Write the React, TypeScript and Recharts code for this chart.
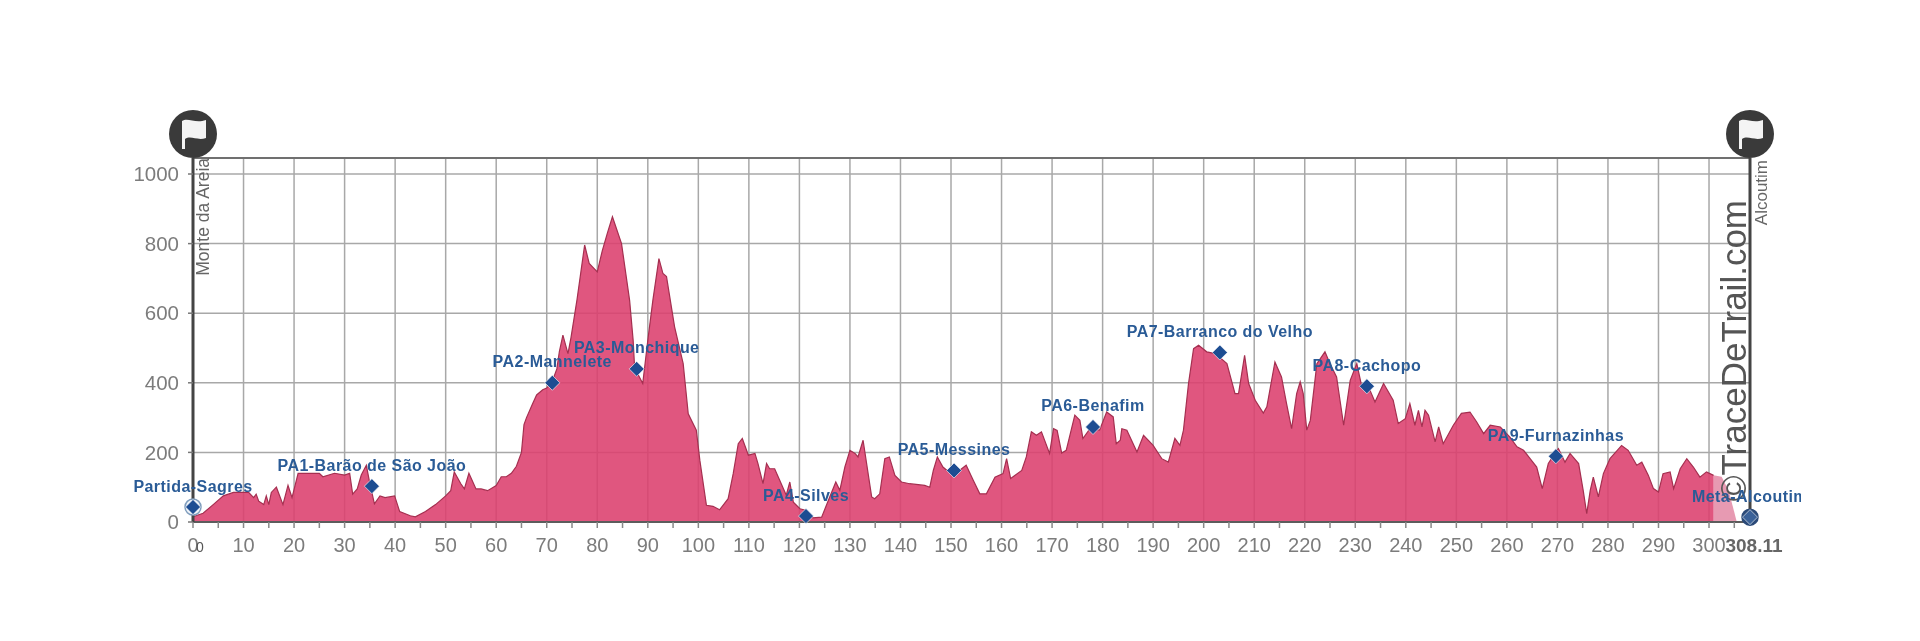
import React from "react";
import { ComposedChart, Area, Line, XAxis, YAxis, CartesianGrid, ReferenceLine, ReferenceDot } from "recharts";

const profileKm = [0,2,4,6,8,10,11,12,12.5,13,14,14.5,15,15.5,16.5,17.8,18.8,19.6,20.8,22,25,25.7,28,30,31,31.6,32.5,33.3,34.3,35,35.9,37,38,39.9,40.9,43,44,46,48,50,51,51.7,53,53.7,54.6,56,57,58.3,60,61,62,63,64,65,65.5,66,67.2,68,69.2,70,71,72,72.5,73.2,74.2,74.8,76,77.5,78.4,80,81,82,83,84.8,86.4,87.1,87.4,88.2,89,90,91,92.2,93,93.7,95.3,97,98,99.6,100.3,101.6,102.9,104.2,105.9,106.9,107.9,108.7,109.9,111.2,111.8,112.8,113.5,114.1,115.1,116.1,117.4,118.1,118.8,120.1,121.4,122.7,124.4,126,127.2,128,129,130,131,131.6,132.6,133.3,134.3,134.9,135.9,136.9,137.8,138.9,140.2,141.8,144.8,145.8,146.5,147.3,148.4,150.4,153,154.4,155.7,157,158.7,160.3,161,161.8,164,164.9,165.9,166.9,167.9,169.5,170.3,171,171.9,172.8,174.5,175.5,176.1,177.5,179.4,180.8,182.1,182.7,183.5,183.8,184.8,186.8,188.1,190,191.7,193,194.3,195.3,196,197,198,199,200.6,202.3,204.6,206.2,206.9,208.1,208.9,210.2,211.8,212.5,214.1,215.4,216.4,217.4,218.4,219.1,219.7,220.4,221.1,222.4,224,225,226.3,227.7,229,230.3,231.3,232.9,233.9,235.6,237.5,238.5,239.9,240.8,241.8,242.5,243.2,243.8,244.5,245.8,246.5,247.4,249.4,251,252.7,254,255.4,256.7,258.7,260.6,262,263.3,264.6,265.9,267,268.2,269.5,270.2,271.5,272.5,274.2,275.1,275.8,276.5,277.1,278.1,279.1,280.4,282.7,284,285.7,286.7,288,289,290,290.9,292.3,293,294.3,295.6,296.9,298.2,299.5,300.9];
const profileElevation = [15,25,50,75,85,85,85,70,80,60,50,75,50,85,100,50,105,70,140,140,140,130,140,135,140,80,95,135,163,110,52,75,70,75,30,18,15,30,50,75,90,144,110,95,140,95,95,90,105,130,130,140,160,200,280,300,340,365,380,385,400,440,490,537,484,530,640,796,743,719,780,830,877,800,637,522,440,420,398,522,637,757,714,705,561,455,311,264,177,48,45,35,67,139,225,240,192,197,168,110,168,153,153,120,77,115,57,38,33,12,14,72,115,91,158,206,197,187,235,168,72,67,81,182,187,134,115,110,105,100,148,187,158,134,163,120,81,81,129,139,182,125,148,187,259,249,259,197,268,263,198,206,307,292,240,268,264,316,302,225,235,268,264,201,249,220,182,172,240,220,264,398,498,508,489,484,455,369,369,479,398,350,313,331,460,417,340,268,369,403,369,264,292,455,489,455,417,278,407,455,388,379,345,398,350,283,297,340,278,321,273,321,307,230,273,225,278,312,316,288,254,278,273,244,216,206,182,158,96,168,197,211,172,197,168,91,24,91,129,72,139,182,220,206,163,172,134,96,86,139,144,96,153,182,158,129,144,134];
const tailKm = [300.9,302.5,303.9,305.5];
const tailElevation = [134,130,90,0];

const waypointNames = ["Partida-Sagres","PA1-Barão de São João","PA2-Mannelete","PA3-Monchique","PA4-Silves","PA5-Messines","PA6-Benafim","PA7-Barranco do Velho","PA8-Cachopo","PA9-Furnazinhas","Meta-Alcoutim"];
const waypointKm = [0,35.4,71.1,87.8,121.3,150.6,178.1,203.2,232.3,269.7,308.11];
const waypointElevation = [43,103,400,440,17,148,273,487,390,189,14];

const yTicks = [0,200,400,600,800,1000];
const majorKm = [0,10,20,30,40,50,60,70,80,90,100,110,120,130,140,150,160,170,180,190,200,210,220,230,240,250,260,270,280,290,300];
const minorKm = [5,15,25,35,45,55,65,75,85,95,105,115,125,135,145,155,165,175,185,195,205,215,225,235,245,255,265,275,285,295,305];
const totalKm = 308.11;
const topElevation = 1046;

const FONT = '"Liberation Sans", Arial, sans-serif';

type Row = { km: number; elevation?: number; tail?: number; waypoint?: number; name?: string };
const byKm = new Map<number, Row>();
const rowAt = (km: number): Row => {
  if (!byKm.has(km)) byKm.set(km, { km });
  return byKm.get(km)!;
};
profileKm.forEach((km, i) => { rowAt(km).elevation = profileElevation[i]; });
tailKm.forEach((km, i) => { rowAt(km).tail = tailElevation[i]; });
waypointKm.forEach((km, i) => {
  const r = rowAt(km);
  r.waypoint = waypointElevation[i];
  r.name = waypointNames[i];
});
const rows = Array.from(byKm.values()).sort((a, b) => a.km - b.km);

const xTick = (props: any) => {
  const { x, y, payload } = props;
  const v = payload.value;
  const labelled = v % 10 === 0 && v <= 300;
  const isEnd = v === totalKm;
  return (
    <g>
      {!isEnd && <line x1={x} x2={x} y1={y} y2={y + 6} stroke="#888" strokeWidth={1.5} />}
      {labelled && <text x={x} y={y + 23} textAnchor="middle" dominantBaseline="central" fontFamily={FONT} fontSize={20} fill="#7c7c7c">{v}</text>}
      {v === 0 && <text x={x + 7} y={y + 25} textAnchor="middle" dominantBaseline="central" fontFamily={FONT} fontSize={14} fill="#555">0</text>}
      {isEnd && <text x={x + 4} y={y + 23} textAnchor="middle" dominantBaseline="central" fontFamily={FONT} fontSize={19} fontWeight={700} fill="#666">308.11</text>}
    </g>
  );
};

const waypointDot = (props: any) => {
  const { cx, cy, payload, index } = props;
  if (cx == null || cy == null || payload?.waypoint == null) return <g key={index} />;
  const first = payload.name === waypointNames[0];
  const end = payload.name === waypointNames[10];
  const ring = first || end;
  const d = `M${cx} ${cy - 7.5}L${cx + 7.5} ${cy}L${cx} ${cy + 7.5}L${cx - 7.5} ${cy}Z`;
  return (
    <g key={index}>
      {ring && <circle cx={cx} cy={cy} r={8} fill={end ? "#2b4a78" : "#f3f6fa"} stroke={end ? "#2b4a78" : "#7f9dbd"} strokeWidth={1.5} />}
      <path d={d} fill={end ? "#3a6198" : "#1d4d92"} stroke="#fff" strokeOpacity={0.6} strokeWidth={1} />
      <text x={cx} y={cy - 21} textAnchor="middle" dominantBaseline="central" fontFamily={FONT} fontSize={16} fontWeight={700} letterSpacing={0.45} fill="#2a5b96" clipPath={end ? "url(#labelEdge)" : undefined}>{payload.name}</text>
    </g>
  );
};

const flag = (props: any) => {
  const cx = props.cx;
  const cy = props.cy - 24;
  return (
    <g>
      <circle cx={cx} cy={cy} r={24} fill="#3a3a3a" />
      <path
        d={`M${cx - 11} ${cy - 13} C${cx - 5} ${cy - 17} ${cx + 2} ${cy - 10} ${cx + 13} ${cy - 14} L${cx + 13} ${cy + 4} C${cx + 4} ${cy + 7} ${cx - 2} ${cy + 1} ${cx - 8} ${cy + 5} L${cx - 8} ${cy + 15} L${cx - 11} ${cy + 15} Z`}
        fill="#f4f4f4"
      />
    </g>
  );
};

const verticalText = (text: string, fontSize: number, fill: string, dx: number, dy: number) => (props: any) => {
  const x = props.cx + dx;
  const y = props.cy + dy;
  return (
    <text x={x} y={y} transform={`rotate(-90 ${x} ${y})`} textAnchor="end" dominantBaseline="central" fontFamily={FONT} fontSize={fontSize} fill={fill}>{text}</text>
  );
};

export default function App() {
  return (
    <div style={{ position: "absolute", left: 0, top: 0, width: 1920, height: 641, background: "#fff", filter: "blur(0.7px)" }}>
      <ComposedChart width={1920} height={641} data={rows} margin={{ top: 158, right: 170, bottom: 79, left: 133 }} style={{ overflow: "visible" }}>
        <defs>
          <clipPath id="labelEdge" clipPathUnits="userSpaceOnUse">
            <rect x={0} y={0} width={1801} height={641} />
          </clipPath>
        </defs>
        <CartesianGrid stroke="#a8a8a8" strokeWidth={1.5} verticalValues={majorKm} horizontalValues={yTicks} />
        <XAxis
          dataKey="km"
          type="number"
          domain={[0, totalKm]}
          ticks={[...majorKm, ...minorKm, totalKm].sort((a, b) => a - b)}
          interval={0}
          height={40}
          tick={xTick}
          tickSize={0}
          tickMargin={0}
          axisLine={false}
          tickLine={false}
        />
        <YAxis
          type="number"
          domain={[0, topElevation]}
          ticks={yTicks}
          interval={0}
          width={60}
          axisLine={false}
          tickSize={5}
          tickMargin={9}
          tickLine={{ stroke: "#777", strokeWidth: 1.5 }}
          tick={{ fontFamily: FONT, fontSize: 20.5, fill: "#7c7c7c" }}
        />
        <Area dataKey="tail" type="linear" connectNulls fill="#e79ab2" fillOpacity={1} stroke="none" isAnimationActive={false} dot={false} activeDot={false} />
        <Area dataKey="elevation" type="linear" connectNulls fill="#dc3f6d" fillOpacity={0.88} stroke="#a52f50" strokeWidth={1.2} isAnimationActive={false} dot={false} activeDot={false} />
        <ReferenceLine y={0} stroke="#5c5c5c" strokeWidth={2} />
        <ReferenceLine y={topElevation} stroke="#707070" strokeWidth={2} />
        <ReferenceLine x={0} stroke="#444" strokeWidth={3} />
        <ReferenceLine x={totalKm} stroke="#444" strokeWidth={3} />
        <ReferenceDot x={0} y={topElevation} r={0} ifOverflow="visible" shape={flag} />
        <ReferenceDot x={totalKm} y={topElevation} r={0} ifOverflow="visible" shape={flag} />
        <ReferenceDot x={0} y={topElevation} r={0} ifOverflow="visible" shape={verticalText("Monte da Areia", 17.5, "#666", 10, 0)} />
        <ReferenceDot x={totalKm} y={topElevation} r={0} ifOverflow="visible" shape={verticalText("Alcoutim", 17, "#666", 11, 2)} />
        <ReferenceDot x={totalKm} y={topElevation} r={0} ifOverflow="visible" shape={verticalText("©TraceDeTrail.com", 35, "#555", -17, 42)} />
        <Line dataKey="waypoint" stroke="none" connectNulls={false} isAnimationActive={false} dot={waypointDot} activeDot={false} />
      </ComposedChart>
    </div>
  );
}
